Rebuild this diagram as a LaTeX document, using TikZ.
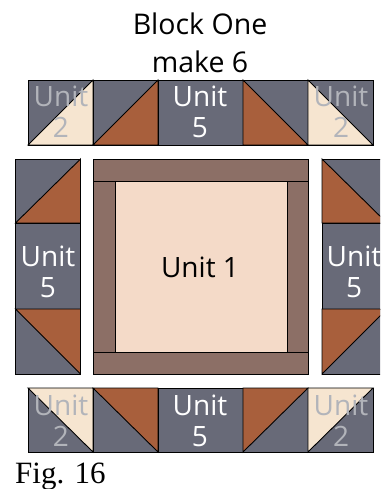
\documentclass[tikz,border=0pt]{standalone}
\usepackage{fontspec}
\setmainfont{Open Sans}
\newfontfamily\figfont{Liberation Serif}
\usepackage{tikz}
\definecolor{slategray}{HTML}{686A78}
\definecolor{rustbrown}{HTML}{A85F3C}
\definecolor{creampatch}{HTML}{F6E5D0}
\definecolor{peachpatch}{HTML}{F4DAC8}
\definecolor{framebrown}{HTML}{8C6F66}
\definecolor{fadedtext}{HTML}{B2B4BA}
\tikzset{
    patch/.style={draw=black, line width=0.9pt, line join=miter},
    title/.style={anchor=base, font=\fontsize{28.5}{28.5}\selectfont, inner sep=0pt},
    unitlabel/.style={anchor=base, font=\fontsize{28}{28}\selectfont, inner sep=0pt, text=white},
    fadedlabel/.style={unitlabel, text=fadedtext}
}

\begin{document}
\begin{tikzpicture}[x=1pt, y=-1pt]
        \useasboundingbox (0,0) rectangle (380,489);
        \clip (0,0) rectangle (380,489);

        % Titolo
        \node[title] (titleone) at (200,35) {Block One};
        \node[title] (titletwo) at (200,73) {make 6};

        % Riga superiore
        \fill[patch, fill=slategray] (28,80) rectangle (93,145);
        \fill[patch, fill=creampatch] (28,145) -- (93,145) -- (93,80) -- cycle;
        \fill[patch, fill=slategray] (93,80) rectangle (158,145);
        \fill[patch, fill=rustbrown] (93,145) -- (158,145) -- (158,80) -- cycle;
        \fill[patch, fill=slategray] (158,80) rectangle (243,145);
        \fill[patch, fill=slategray] (243,80) rectangle (308,145);
        \fill[patch, fill=rustbrown] (243,80) -- (243,145) -- (308,145) -- cycle;
        \fill[patch, fill=slategray] (308,80) rectangle (373,145);
        \fill[patch, fill=creampatch] (308,80) -- (308,145) -- (373,145) -- cycle;

        % Colonna sinistra
        \fill[patch, fill=slategray] (15.5,159) rectangle (80.5,223);
        \fill[patch, fill=rustbrown] (15.5,223) -- (80.5,223) -- (80.5,159) -- cycle;
        \fill[patch, fill=slategray] (15.5,223) rectangle (80.5,309);
        \fill[patch, fill=slategray] (15.5,309) rectangle (80.5,374);
        \fill[patch, fill=rustbrown] (15.5,309) -- (80.5,309) -- (80.5,374) -- cycle;

        % Blocco centrale
        \fill[patch, fill=framebrown] (93,159) rectangle (308,374);
        \fill[patch, fill=peachpatch] (115,181) rectangle (287,352);
        \draw[patch] (93,181) -- (308,181);
        \draw[patch] (93,352) -- (308,352);

        % Colonna destra
        \fill[patch, fill=slategray] (322,159) rectangle (387,223);
        \fill[patch, fill=rustbrown] (322,159) -- (322,223) -- (387,223) -- cycle;
        \fill[patch, fill=slategray] (322,223) rectangle (387,309);
        \fill[patch, fill=slategray] (322,309) rectangle (387,374);
        \fill[patch, fill=rustbrown] (322,309) -- (387,309) -- (322,374) -- cycle;

        % Riga inferiore
        \fill[patch, fill=slategray] (28,388) rectangle (93,452);
        \fill[patch, fill=creampatch] (28,388) -- (93,388) -- (93,452) -- cycle;
        \fill[patch, fill=slategray] (93,388) rectangle (158,452);
        \fill[patch, fill=rustbrown] (93,388) -- (158,388) -- (158,452) -- cycle;
        \fill[patch, fill=slategray] (158,388) rectangle (243,452);
        \fill[patch, fill=slategray] (243,388) rectangle (308,452);
        \fill[patch, fill=rustbrown] (243,388) -- (308,388) -- (243,452) -- cycle;
        \fill[patch, fill=slategray] (308,388) rectangle (373,452);
        \fill[patch, fill=creampatch] (308,388) -- (373,388) -- (308,452) -- cycle;

        % Etichette
        \foreach \xpos/\ypos/\num in {61/107/2, 341/107/2, 61/415/2, 341/415/2} {
            \node[fadedlabel] at (\xpos,\ypos) {Unit};
            \node[fadedlabel] at (\xpos,\ypos+31) {\num};
        }
        \foreach \xpos/\ypos/\num in {200/107/5, 200/415/5, 48/266/5, 354/266/5} {
            \node[unitlabel] at (\xpos,\ypos) {Unit};
            \node[unitlabel] at (\xpos,\ypos+31) {\num};
        }
        \node[unitlabel, text=black] (unitone) at (200,277) {Unit 1};

        % Didascalia
        \node[anchor=base west, inner sep=0pt, font=\figfont\fontsize{31}{31}\selectfont] (figlabel) at (15,483) {Fig. 16};
    \end{tikzpicture}
\end{document}
